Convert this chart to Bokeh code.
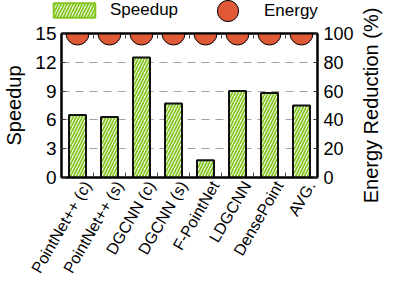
import math
from bokeh.plotting import figure
from bokeh.layouts import column, row
from bokeh.models import (Range1d, LinearAxis, FixedTicker, Legend, LegendItem,
                          ColumnDataSource, Title)
from bokeh.embed import file_html
from bokeh.resources import INLINE

categories = ["PointNet++ (c)", "PointNet++ (s)", "DGCNN (c)", "DGCNN (s)",
              "F-PointNet", "LDGCNN", "DensePoint", "AVG."]
speedup = [6.5, 6.3, 12.5, 7.7, 1.8, 9.0, 8.8, 7.5]
energy = [100, 100, 100, 100, 100, 100, 100, 100]
speedup_ticks = [0, 3, 6, 9, 12, 15]
energy_ticks = [0, 20, 40, 60, 80, 100]

FONT = "Liberation Sans"
GREEN = "#84c51f"
RED = "#e05a38"
centers = [i + 0.5 for i in range(len(categories))]
label_pos = [c + 0.3 for c in centers]
bounds = list(range(1, len(categories)))

src = ColumnDataSource(dict(x=centers, top=speedup, energy=energy))

W, H = 383, 283
LEG_H = 24
RW = 26                      # strip holding the right-hand axis title
TOP, BOTTOM, LEFT, RIGHT = 9, 104, 59, 40

# ---------------- main chart ----------------
p = figure(width=W - RW, height=H - LEG_H, output_backend="svg",
           toolbar_location=None,
           x_range=Range1d(0, len(categories)), y_range=Range1d(0, 15),
           min_border_left=LEFT, min_border_right=RIGHT, min_border_top=TOP,
           min_border_bottom=BOTTOM)
p.frame_align = False
p.extra_y_ranges = {"energy": Range1d(0, 100)}
p.outline_line_color = "black"
p.outline_line_width = 2

p.vbar(x="x", top="top", width=0.53, source=src,
       fill_color="white", hatch_pattern="/", hatch_color=GREEN,
       hatch_scale=6, hatch_weight=1.8,
       line_color="#111111", line_width=2)
p.scatter(x="x", y="energy", y_range_name="energy", source=src,
          size=23, fill_color=RED, line_color="black", line_width=1)

p.xgrid.visible = False
p.ygrid.ticker = FixedTicker(ticks=speedup_ticks)
p.ygrid.grid_line_color = "#a0a0a0"
p.ygrid.grid_line_dash = "8 6"
p.ygrid.grid_line_width = 1

xa = p.xaxis[0]
xa.ticker = FixedTicker(ticks=label_pos, minor_ticks=bounds)
xa.major_label_overrides = {c: lab for c, lab in zip(label_pos, categories)}
xa.major_label_orientation = math.pi / 3
xa.major_label_text_font = FONT
xa.major_label_text_font_size = "16px"
xa.major_label_text_color = "black"
xa.major_label_standoff = 5
xa.major_tick_in = 0
xa.major_tick_out = 0
xa.minor_tick_in = 5
xa.minor_tick_out = 0
xa.minor_tick_line_color = "#444444"
xa.axis_line_color = "black"
xa.axis_line_width = 2

ta = LinearAxis(ticker=FixedTicker(ticks=[], minor_ticks=bounds),
                major_label_text_alpha=0, major_label_text_font_size="1px",
                major_tick_in=0, major_tick_out=0, minor_tick_in=5,
                minor_tick_out=0, minor_tick_line_color="#444444",
                axis_line_width=2, major_label_standoff=0)
p.add_layout(ta, "above")

ya = p.yaxis[0]
ya.ticker = FixedTicker(ticks=speedup_ticks)
ya.axis_label = "Speedup"
ya.axis_label_text_font = FONT
ya.axis_label_text_font_size = "20px"
ya.axis_label_text_font_style = "normal"
ya.axis_label_text_color = "black"
ya.axis_label_standoff = 7
ya.major_label_text_font = FONT
ya.major_label_text_font_size = "19px"
ya.major_label_text_color = "black"
ya.major_label_standoff = 5
ya.major_tick_in = 4
ya.major_tick_out = 0
ya.minor_tick_in = 0
ya.minor_tick_out = 0
ya.major_tick_line_color = "#333333"
ya.axis_line_width = 2

ra = LinearAxis(y_range_name="energy", ticker=FixedTicker(ticks=energy_ticks))
ra.major_label_text_font = FONT
ra.major_label_text_font_size = "18px"
ra.major_label_text_color = "black"
ra.major_label_standoff = 6
ra.major_tick_in = 4
ra.major_tick_out = 0
ra.minor_tick_in = 0
ra.minor_tick_out = 0
ra.major_tick_line_color = "#333333"
ra.axis_line_width = 2
p.add_layout(ra, "right")

# ---------------- legend strip ----------------
lf = figure(width=W - RW, height=LEG_H, output_backend="svg",
            toolbar_location=None, x_axis_type=None, y_axis_type=None,
            min_border=0, min_border_left=0, min_border_right=0,
            min_border_top=0, min_border_bottom=0)
lf.frame_align = False
lf.outline_line_color = None
lf.xgrid.visible = False
lf.ygrid.visible = False
leg_bar = lf.vbar(x="x", top="top", width=0.53, source=src,
                  fill_color="white", hatch_pattern="/", hatch_color=GREEN,
                  hatch_scale=6, hatch_weight=1.8,
                  line_color=GREEN, line_width=2, visible=False)
leg_dot = lf.scatter(x="x", y="energy", source=src, size=23,
                     fill_color=RED, line_color="black", line_width=1,
                     visible=False)
common = dict(orientation="horizontal", padding=0, margin=0,
              border_line_alpha=0, background_fill_alpha=0,
              inactive_fill_alpha=0, label_text_font=FONT,
              label_text_font_size="17px", label_text_color="black")
leg1 = Legend(items=[LegendItem(label="Speedup", renderers=[leg_bar])],
              glyph_width=52, glyph_height=18, label_height=18,
              label_standoff=10, location=(48, 4), **common)
leg2 = Legend(items=[LegendItem(label="Energy", renderers=[leg_dot])],
              glyph_width=53, glyph_height=53, label_height=53,
              label_standoff=10, location=(201, -13), **common)
lf.add_layout(leg1, "center")
lf.add_layout(leg2, "center")

# ---------------- right-hand axis title strip (full height) ----------------
rf = figure(width=RW, height=H, output_backend="svg",
            toolbar_location=None, x_axis_type=None, y_axis_type=None,
            min_border_left=0, min_border_right=0,
            min_border_top=LEG_H + TOP, min_border_bottom=BOTTOM + 2)
rf.frame_align = False
rf.outline_line_color = None
rf.xgrid.visible = False
rf.ygrid.visible = False
rf.add_layout(Title(text="Energy Reduction (%)", align="center",
                    text_font=FONT, text_font_size="20px",
                    text_font_style="normal", text_color="black",
                    standoff=0, offset=0), "left")

layout = row(column(lf, p, spacing=0), rf, spacing=0)
open("out.html", "w").write(file_html(layout, INLINE))
